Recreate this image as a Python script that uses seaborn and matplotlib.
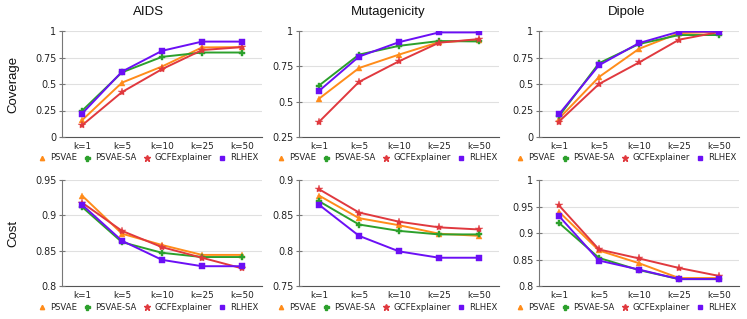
import matplotlib
matplotlib.use("Agg")
import matplotlib.pyplot as plt
from matplotlib.lines import Line2D
import seaborn as sns
import pandas as pd

k_labels = ["k=1", "k=5", "k=10", "k=25", "k=50"]
methods = ["PSVAE", "PSVAE-SA", "GCFExplainer", "RLHEX"]
datasets = ["AIDS", "Mutagenicity", "Dipole"]

# Coverage
aids_cov_psvae = [0.158, 0.513, 0.665, 0.845, 0.848]
aids_cov_psvae_sa = [0.247, 0.610, 0.756, 0.797, 0.797]
aids_cov_gcf = [0.110, 0.424, 0.640, 0.820, 0.848]
aids_cov_rlhex = [0.220, 0.617, 0.813, 0.900, 0.900]

mut_cov_psvae = [0.521, 0.738, 0.833, 0.921, 0.936]
mut_cov_psvae_sa = [0.614, 0.833, 0.895, 0.929, 0.926]
mut_cov_gcf = [0.357, 0.640, 0.786, 0.917, 0.943]
mut_cov_rlhex = [0.576, 0.819, 0.921, 0.990, 0.990]

dip_cov_psvae = [0.174, 0.566, 0.832, 0.980, 0.990]
dip_cov_psvae_sa = [0.196, 0.696, 0.877, 0.962, 0.962]
dip_cov_gcf = [0.146, 0.500, 0.703, 0.918, 0.990]
dip_cov_rlhex = [0.215, 0.677, 0.886, 0.994, 0.994]

# Cost
aids_cost_psvae = [0.928, 0.874, 0.858, 0.844, 0.844]
aids_cost_psvae_sa = [0.912, 0.862, 0.847, 0.841, 0.841]
aids_cost_gcf = [0.918, 0.878, 0.855, 0.840, 0.825]
aids_cost_rlhex = [0.915, 0.864, 0.837, 0.828, 0.828]

mut_cost_psvae = [0.878, 0.846, 0.836, 0.824, 0.821]
mut_cost_psvae_sa = [0.870, 0.837, 0.828, 0.823, 0.823]
mut_cost_gcf = [0.887, 0.854, 0.841, 0.833, 0.830]
mut_cost_rlhex = [0.865, 0.821, 0.799, 0.790, 0.790]

dip_cost_psvae = [0.940, 0.867, 0.843, 0.815, 0.815]
dip_cost_psvae_sa = [0.919, 0.853, 0.830, 0.813, 0.813]
dip_cost_gcf = [0.952, 0.869, 0.852, 0.834, 0.819]
dip_cost_rlhex = [0.932, 0.848, 0.831, 0.813, 0.813]

cov_ticks = {"AIDS": [0, 0.25, 0.5, 0.75, 1], "Mutagenicity": [0.25, 0.5, 0.75, 1], "Dipole": [0, 0.25, 0.5, 0.75, 1]}
cost_ticks = {"AIDS": [0.8, 0.85, 0.9, 0.95], "Mutagenicity": [0.75, 0.8, 0.85, 0.9], "Dipole": [0.8, 0.85, 0.9, 0.95, 1]}

series = {
    ("Coverage", "AIDS"): [aids_cov_psvae, aids_cov_psvae_sa, aids_cov_gcf, aids_cov_rlhex],
    ("Coverage", "Mutagenicity"): [mut_cov_psvae, mut_cov_psvae_sa, mut_cov_gcf, mut_cov_rlhex],
    ("Coverage", "Dipole"): [dip_cov_psvae, dip_cov_psvae_sa, dip_cov_gcf, dip_cov_rlhex],
    ("Cost", "AIDS"): [aids_cost_psvae, aids_cost_psvae_sa, aids_cost_gcf, aids_cost_rlhex],
    ("Cost", "Mutagenicity"): [mut_cost_psvae, mut_cost_psvae_sa, mut_cost_gcf, mut_cost_rlhex],
    ("Cost", "Dipole"): [dip_cost_psvae, dip_cost_psvae_sa, dip_cost_gcf, dip_cost_rlhex],
}

colors = {"PSVAE": "#ff8c1a", "PSVAE-SA": "#2ca02c", "GCFExplainer": "#e0393e", "RLHEX": "#6b0ff5"}
markers = {"PSVAE": "^", "PSVAE-SA": "P", "GCFExplainer": "*", "RLHEX": "s"}
msizes = {"PSVAE": 4.5, "PSVAE-SA": 5, "GCFExplainer": 6, "RLHEX": 4.5}

sns.set_theme(style="white")
plt.rcParams["font.family"] = ["DejaVu Sans"]

W, H = 747, 319
fig = plt.figure(figsize=(W / 100, H / 100), dpi=100)

ax_left = {"AIDS": 62, "Mutagenicity": 299, "Dipole": 539}
centers = {"AIDS": 149, "Mutagenicity": 388, "Dipole": 627}
row_top = {"Coverage": 31, "Cost": 180}
ax_w, ax_h = 200, 106
legend_y = {"Coverage": 158, "Cost": 307}
fs = 6.1

for metric in ["Coverage", "Cost"]:
    for ds in datasets:
        vals = series[(metric, ds)]
        rows = []
        for m, v in zip(methods, vals):
            for k, y in zip(k_labels, v):
                rows.append({"k": k, "value": y, "method": m})
        df = pd.DataFrame(rows)
        l = ax_left[ds] / W
        b = 1 - (row_top[metric] + ax_h) / H
        ax = fig.add_axes([l, b, ax_w / W, ax_h / H])
        for m in methods:
            sub = df[df["method"] == m]
            sns.lineplot(data=sub, x="k", y="value", ax=ax, color=colors[m],
                         marker=markers[m], markersize=msizes[m], markeredgewidth=0.3,
                         markeredgecolor=colors[m], linewidth=1.4, legend=False, sort=False)
        ticks = cov_ticks[ds] if metric == "Coverage" else cost_ticks[ds]
        ax.set_ylim(ticks[0], ticks[-1])
        ax.set_yticks(ticks)
        ax.set_yticklabels([("%g" % t) for t in ticks])
        ax.set_xlim(-0.5, 4.5)
        ax.set_xlabel("")
        ax.set_ylabel("")
        ax.grid(axis="y", color="#e0e0e0", linewidth=0.8)
        ax.set_axisbelow(True)
        for s in ["top", "right"]:
            ax.spines[s].set_visible(False)
        ax.spines["left"].set_color("#777777")
        ax.spines["left"].set_linewidth(0.8)
        ax.spines["bottom"].set_color("#555555")
        ax.spines["bottom"].set_linewidth(0.8)
        ax.tick_params(axis="y", which="both", left=True, direction="inout", length=4,
                       width=0.8, color="#777777", labelsize=6.9, labelcolor="#222222", pad=2)
        ax.tick_params(axis="x", bottom=False, length=0, labelsize=fs + 0.3, labelcolor="#222222", pad=3.5)
        for sp in ax.spines.values():
            sp.set_zorder(0.5)

        handles = [Line2D([0], [0], linestyle="none", marker=markers[m], color=colors[m],
                          markersize=msizes[m] - 1.4) for m in methods]
        fig.legend(handles, methods, loc="center", bbox_to_anchor=(centers[ds] / W, 1 - legend_y[metric] / H),
                   ncol=4, frameon=False, fontsize=fs, handletextpad=0.6, columnspacing=0.85,
                   handlelength=0.7, borderpad=0, borderaxespad=0)

for ds in datasets:
    fig.text(centers[ds] / W, 1 - 12 / H, ds, ha="center", va="center",
             fontsize=9.5, family=["Liberation Sans", "DejaVu Sans"], color="#111111")

fig.text(13 / W, 1 - 84 / H, "Coverage", rotation=90, ha="center", va="center",
         fontsize=9.5, family=["Liberation Sans", "DejaVu Sans"], color="#111111")
fig.text(13 / W, 1 - 233 / H, "Cost", rotation=90, ha="center", va="center",
         fontsize=9.5, family=["Liberation Sans", "DejaVu Sans"], color="#111111")

fig.savefig("out.png", dpi=100, facecolor="white")
